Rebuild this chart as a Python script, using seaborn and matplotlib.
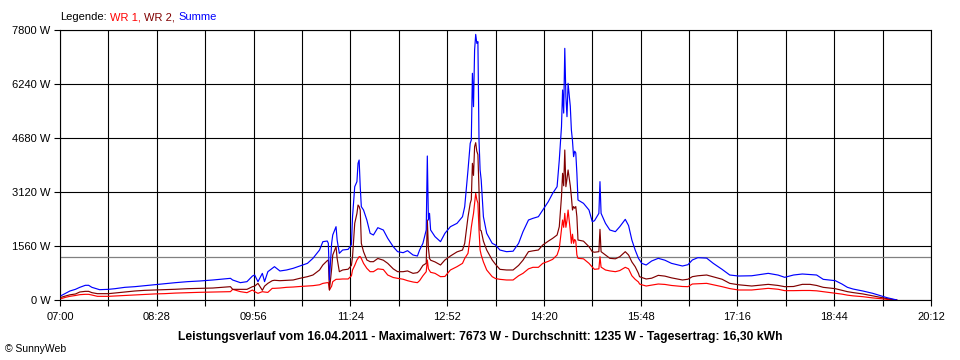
import matplotlib
matplotlib.use("Agg")
import pandas as pd
import matplotlib.pyplot as plt
import seaborn as sns

# Minuten nach 07:00 und Leistung in W
minutes = [1, 5, 9, 14, 18, 23, 26, 29, 34, 36, 44, 50, 59, 68, 77, 86, 95, 105, 116, 127,
           139, 155, 157, 164, 170, 175, 177, 180, 184, 186, 189, 193, 195, 200, 206, 212, 218, 225, 230, 236,
           239, 243, 244, 245, 247, 248, 251, 252, 254, 257, 262, 265, 266, 268, 270, 271, 272, 273, 274, 276,
           279, 282, 285, 289, 294, 298, 303, 307, 312, 316, 321, 325, 327, 330, 333, 334, 335, 336, 337, 341,
           346, 350, 355, 361, 366, 368, 371, 373, 374, 375, 376, 377, 378, 379, 380, 381, 382, 383, 385, 388,
           393, 396, 400, 406, 412, 417, 421, 426, 430, 435, 439, 444, 448, 452, 454, 456, 457, 458, 459, 460,
           461, 462, 464, 465, 466, 467, 468, 469, 470, 471, 476, 481, 484, 486, 490, 491, 492, 496, 500, 505,
           509, 514, 517, 520, 523, 526, 527, 529, 533, 538, 544, 550, 556, 566, 571, 575, 580, 588, 594, 602,
           609, 617, 629, 644, 653, 659, 667, 675, 682, 688, 694, 705, 711, 716, 721, 730, 739, 746, 752, 757,
           761]
wr1 = [38, 77, 106, 130, 154, 164, 164, 144, 106, 106, 106, 116, 130, 144, 160, 175, 183, 200, 212, 222,
       230, 241, 308, 241, 212, 289, 241, 193, 241, 230, 220, 337, 337, 346, 366, 375, 390, 404, 414, 440,
       480, 501, 501, 289, 400, 530, 597, 597, 600, 607, 607, 700, 867, 1000, 1156, 1200, 1252, 1252, 1200, 1059,
       915, 818, 818, 900, 880, 722, 650, 626, 600, 558, 520, 501, 560, 700, 818, 1156, 900, 850, 800, 770,
       674, 680, 867, 963, 1059, 1200, 1348, 1830, 2100, 2311, 2500, 2800, 3082, 2900, 2800, 2022, 1444, 1300, 1100, 867,
       674, 620, 597, 578, 578, 700, 770, 900, 944, 944, 1059, 1117, 1175, 1300, 1492, 2022, 2311, 2100, 2504, 2100,
       2300, 2600, 2000, 1637, 1900, 1637, 1750, 1700, 1300, 1204, 1190, 1059, 950, 886, 900, 1252, 950, 867, 840, 818,
       850, 944, 900, 700, 597, 520, 462, 440, 404, 430, 462, 450, 420, 390, 385, 462, 470, 481, 440, 385,
       330, 289, 289, 337, 310, 270, 270, 275, 275, 265, 240, 193, 170, 140, 120, 96, 60, 40, 19, 5,
       0]
wr2 = [77, 116, 150, 173, 231, 250, 250, 212, 183, 183, 183, 202, 231, 260, 279, 289, 298, 310, 327, 337,
       346, 385, 308, 308, 308, 385, 400, 481, 280, 400, 481, 558, 570, 558, 568, 578, 626, 674, 722, 867,
       1011, 1136, 1156, 289, 900, 1300, 1540, 1200, 818, 867, 890, 1000, 1252, 2215, 2500, 2744, 2700, 2600, 1637, 1396,
       1156, 1107, 1107, 1200, 1150, 1059, 900, 818, 818, 840, 770, 790, 850, 1000, 1059, 2311, 1500, 1204, 1150, 1100,
       1011, 1156, 1271, 1390, 1444, 1637, 2400, 2793, 2900, 3948, 3600, 4430, 4545, 4300, 4200, 3178, 2022, 2000, 1700, 1444,
       1156, 1030, 886, 867, 867, 1000, 1150, 1396, 1420, 1444, 1589, 1700, 1782, 1878, 2118, 2985, 3660, 3300, 4333, 3274,
       3500, 3756, 3300, 2985, 2600, 2700, 2650, 2700, 2407, 1733, 1700, 1540, 1396, 1380, 1396, 2041, 1396, 1300, 1204, 1190,
       1250, 1396, 1300, 1100, 963, 770, 674, 650, 607, 630, 712, 690, 640, 578, 600, 674, 700, 722, 670, 600,
       481, 440, 404, 452, 420, 385, 390, 452, 452, 420, 366, 327, 280, 241, 215, 175, 120, 80, 40, 15,
       0]
summe = [125, 193, 260, 308, 366, 424, 425, 366, 318, 298, 308, 327, 366, 385, 414, 443, 472, 501, 530, 549,
         578, 626, 578, 501, 530, 693, 722, 530, 770, 530, 818, 915, 963, 838, 867, 915, 982, 1059, 1204, 1444,
         1685, 1704, 1637, 578, 1637, 1878, 2118, 1733, 1348, 1444, 1463, 1600, 2407, 3274, 3419, 3948, 4044, 3274, 2696, 2600,
         2311, 1926, 1878, 2089, 2022, 1782, 1540, 1396, 1367, 1425, 1300, 1271, 1444, 1637, 2022, 4160, 2311, 2504, 2022, 1830,
         1685, 1926, 2118, 2215, 2407, 2696, 3756, 4526, 4622, 6549, 5585, 7222, 7673, 7415, 7463, 4622, 3756, 3467, 2407, 1926,
         1637, 1589, 1444, 1396, 1410, 1637, 1974, 2311, 2359, 2407, 2600, 2841, 3082, 3274, 4044, 5007, 6067, 5400, 7270, 5874,
         5296, 6260, 5600, 4911, 4600, 4141, 4300, 4250, 3660, 2889, 2793, 2600, 2263, 2290, 2504, 3419, 2504, 2215, 2022, 1974,
         2118, 2330, 2150, 1733, 1444, 1204, 1156, 1059, 1011, 1127, 1204, 1150, 1059, 982, 1020, 1156, 1223, 1210, 1059, 886,
         722, 693, 700, 770, 720, 655, 722, 751, 735, 722, 597, 558, 462, 366, 318, 260, 193, 125, 67, 29,
         0]

durchschnitt = 1235
y_ticks = [0, 1560, 3120, 4680, 6240, 7800]
x_labels = ["07:00", "08:28", "09:56", "11:24", "12:52", "14:20", "15:48", "17:16", "18:44", "20:12"]
farben = {"WR 1": "#FF0000", "WR 2": "#800000", "Summe": "#0000FF"}

start = pd.Timestamp("2011-04-16 07:00")
df = pd.DataFrame({"Zeit": start + pd.to_timedelta(minutes, unit="m"),
                   "WR 1": wr1, "WR 2": wr2, "Summe": summe})
long = df.melt(id_vars="Zeit", var_name="Serie", value_name="Leistung")

sns.set_theme(style="white")
plt.rcParams["font.family"] = ["Liberation Sans", "DejaVu Sans"]

fig = plt.figure(figsize=(9.6, 3.6), dpi=100)
ax = fig.add_axes([60 / 960, 60 / 360, 871 / 960, 270 / 360])

sns.lineplot(data=long, x="Zeit", y="Leistung", hue="Serie", hue_order=["WR 1", "WR 2", "Summe"],
             palette=farben, estimator=None, sort=False, linewidth=0.85, legend=False, ax=ax, zorder=3)
ax.axhline(durchschnitt, color="#808080", linewidth=0.9, zorder=2)

ticks = pd.date_range(start, periods=19, freq="44min")
labels = [x_labels[i // 2] if i % 2 == 0 else "" for i in range(19)]
ax.set_xticks(ticks, labels)
ax.set_xlim(ticks[0], ticks[-1])
ax.set_yticks(y_ticks, [f"{v} W" for v in y_ticks])
ax.set_ylim(0, 7800)
ax.set_xlabel("")
ax.set_ylabel("")

ax.grid(True, color="black", linewidth=0.8)
ax.set_axisbelow(True)
for s in ax.spines.values():
    s.set_color("black")
    s.set_linewidth(0.8)
ax.tick_params(axis="both", direction="out", bottom=True, left=True, length=4, width=0.8,
               color="black", labelsize=8, labelcolor="black")
ax.tick_params(axis="x", pad=5)
ax.tick_params(axis="y", pad=3)

fig.text(0.5, 1 - 337 / 360,
         "Leistungsverlauf vom 16.04.2011 - Maximalwert: 7673 W - Durchschnitt: 1235 W - Tagesertrag: 16,30 kWh",
         ha="center", va="center", fontsize=8.7, fontweight="bold", color="black")
fig.text(5 / 960, 1 - 349 / 360, "© SunnyWeb", ha="left", va="center", fontsize=7.5, color="black")

# Legende als farbiger Text
fig.canvas.draw()
renderer = fig.canvas.get_renderer()
teile = [("Legende:", "black"), ("WR 1,", farben["WR 1"]), ("WR 2,", farben["WR 2"]), ("Summe", farben["Summe"])]
xpos = 60 / 960
for text, farbe in teile:
    t = fig.text(xpos, 1 - 17 / 360, text, color=farbe, fontsize=8, ha="left", va="center")
    xpos += (t.get_window_extent(renderer).width + 3.5) / 960

fig.savefig("out.png", dpi=100, facecolor="white")
